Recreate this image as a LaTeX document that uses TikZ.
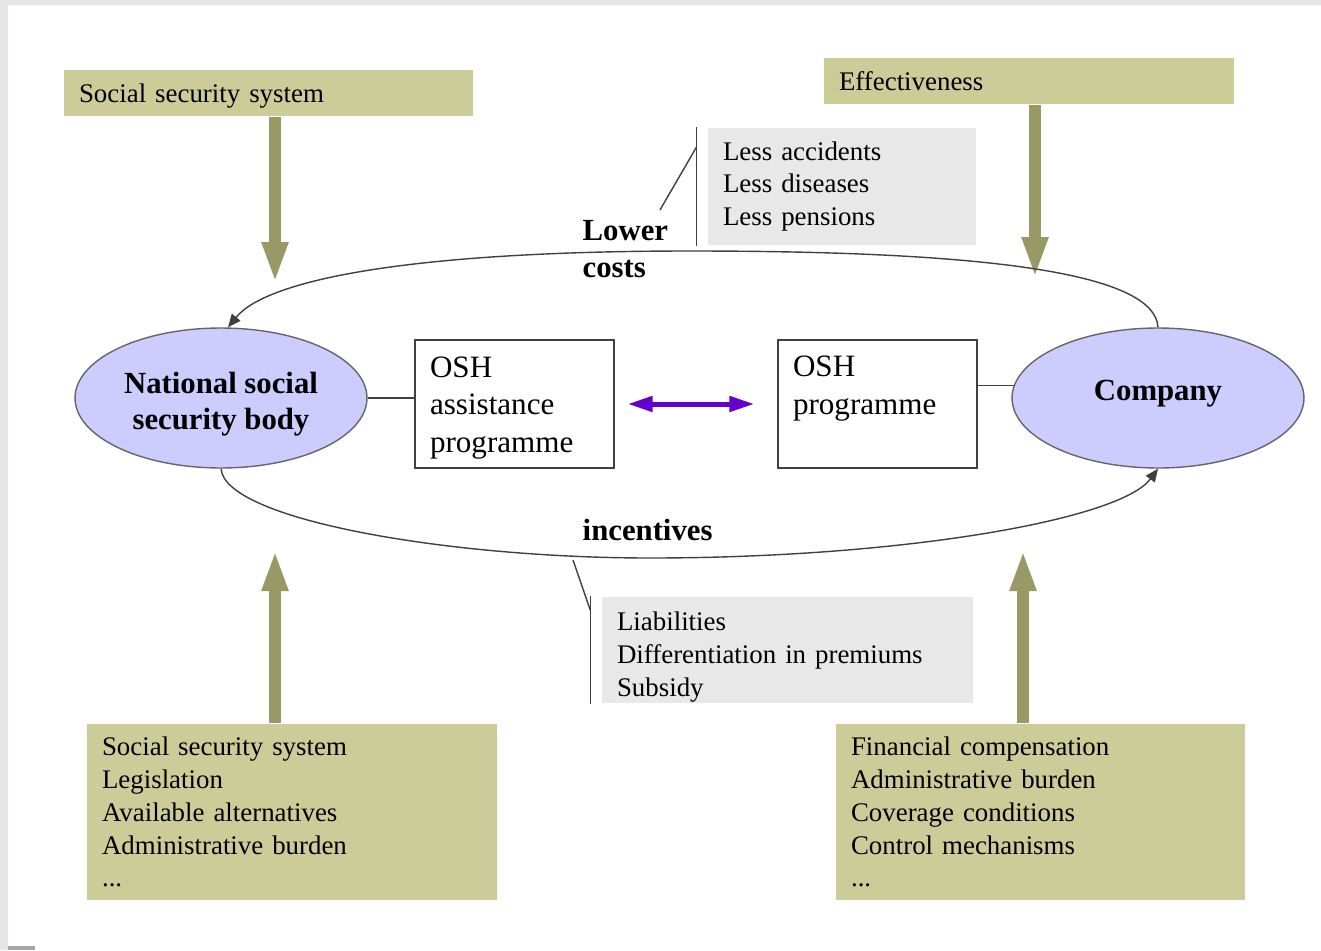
\documentclass[tikz,border=0pt]{standalone}
\usepackage{fontspec}
\setmainfont{Liberation Serif}
\usetikzlibrary{shapes.geometric,arrows.meta}
\definecolor{boxolive}{RGB}{204,204,153}
\definecolor{arrowolive}{RGB}{153,153,102}
\definecolor{bodylilac}{RGB}{204,204,255}
\definecolor{notegray}{RGB}{232,232,232}
\definecolor{framegray}{RGB}{230,230,230}
\definecolor{linkviolet}{RGB}{102,0,204}
\begin{document}
\begin{tikzpicture}[x=0.02cm, y=-0.02cm, line width=0.8pt,
  factor box/.style={fill=boxolive, inner xsep=0.3cm, inner ysep=0pt, align=left, font=\fontsize{15.3}{18.7}\selectfont},
  note box/.style={fill=notegray, inner xsep=0.3cm, inner ysep=0pt, align=left, font=\fontsize{15.3}{18.7}\selectfont},
  osh box/.style={draw=black!75, inner xsep=0.3cm, inner ysep=0pt, minimum height=2.56cm, text width=3.38cm, align=left, font=\fontsize{17.7}{21.3}\selectfont},
  party/.style={ellipse, draw=black!60, fill=bodylilac, minimum width=5.84cm, minimum height=2.8cm, inner sep=0pt, align=center, font=\bfseries\fontsize{17.5}{20.8}\selectfont},
  flow label/.style={inner sep=0pt, anchor=west, align=left, font=\bfseries\fontsize{17.5}{21.5}\selectfont},
  push/.style={draw=arrowolive, line width=0.24cm, -{Triangle[width=0.48cm,length=0.82cm]}},
  cycle/.style={draw=black!75, -{Triangle[width=0.22cm,length=0.26cm]}},
  link/.style={draw=linkviolet, line width=0.1cm, {Triangle[width=0.3cm,length=0.5cm]}-{Triangle[width=0.3cm,length=0.5cm]}}]
\useasboundingbox (0,0) rectangle (1321,950);
\fill[framegray] (0,0) rectangle (1321,5) (0,0) rectangle (8,950);
\fill[black!35] (8,946) rectangle (35,950);
\begin{scope}
\node [factor box, minimum height=0.92cm, text width=7.58cm](sss) at (268.5,93) {\rule{0pt}{14pt}Social security system};
\node [factor box, minimum height=0.92cm, text width=7.6cm](eff) at (1029,81) {Effectiveness};
\node [factor box, minimum height=3.52cm, text width=7.6cm](law) at (292,812) {Social security system\\Legislation\\Available alternatives\\Administrative burden\\...};
\node [factor box, minimum height=3.52cm, text width=7.58cm](terms) at (1040.5,812) {Financial compensation\\Administrative burden\\Coverage conditions\\Control mechanisms\\...};
\node [note box, minimum height=2.34cm, text width=4.76cm](less) at (842,186.5) {Less accidents\\Less diseases\\Less pensions};
\node [note box, minimum height=2.12cm, text width=6.82cm](tools) at (787.5,650) {\rule{0pt}{18.5pt}Liabilities\\Differentiation in premiums\\Subsidy};
\node [party](nssb) at (221,398) {\rule{0pt}{19pt}National social\\security body};
\node [party](comp) at (1158,398) {Company\rule[-8.4pt]{0pt}{8.4pt}};
\node [osh box](osha) at (514.5,404) {\rule{0pt}{16.3pt}OSH\\assistance\\programme};
\node [osh box](oshp) at (877.5,404) {OSH\\programme\\\mbox{}};
\node [flow label](lower) at (582,249) {Lower\\costs};
\node [flow label](inc) at (582,530) {incentives};
\end{scope}
\coordinate (sssend) at (275,283);
\coordinate (effend) at (1035,278);
\coordinate (lawend) at (275,550);
\coordinate (termsend) at (1023,550);
\coordinate (lowtail) at (660,210);
\coordinate (inctail) at (573,560);
\draw[push] (sss.south -| sssend) -- (sssend);
\draw[push] (eff.south -| effend) -- (effend);
\draw[push] (law.north -| lawend) -- (lawend);
\draw[push] (terms.north -| termsend) -- (termsend);
\draw[cycle] (comp.north) .. controls (1155,275) and (1000,251) .. (690,251) .. controls (420,251) and (268,278) .. ([xshift=0.14cm]nssb.north);
\draw[cycle] (nssb.south) .. controls (225,520) and (450,558) .. (650,558) .. controls (900,558) and (1120,520) .. (comp.south);
\path[draw=black!75]
    (nssb.east) edge (nssb.east -| osha.west)
    (comp.175 -| oshp.east) edge (comp.175)
    ([xshift=-0.22cm]less.north west) edge ([xshift=-0.22cm]less.south west)
    ([xshift=-0.22cm,yshift=-0.4cm]less.north west) edge (lowtail)
    ([xshift=-0.22cm]tools.north west) edge ([xshift=-0.22cm]tools.south west)
    ([xshift=-0.22cm,yshift=-0.28cm]tools.north west) edge (inctail)
    ;
\draw[link, shorten <=0.26cm, shorten >=0.46cm] (osha.east) -- (oshp.west);
\end{tikzpicture}
\end{document}
